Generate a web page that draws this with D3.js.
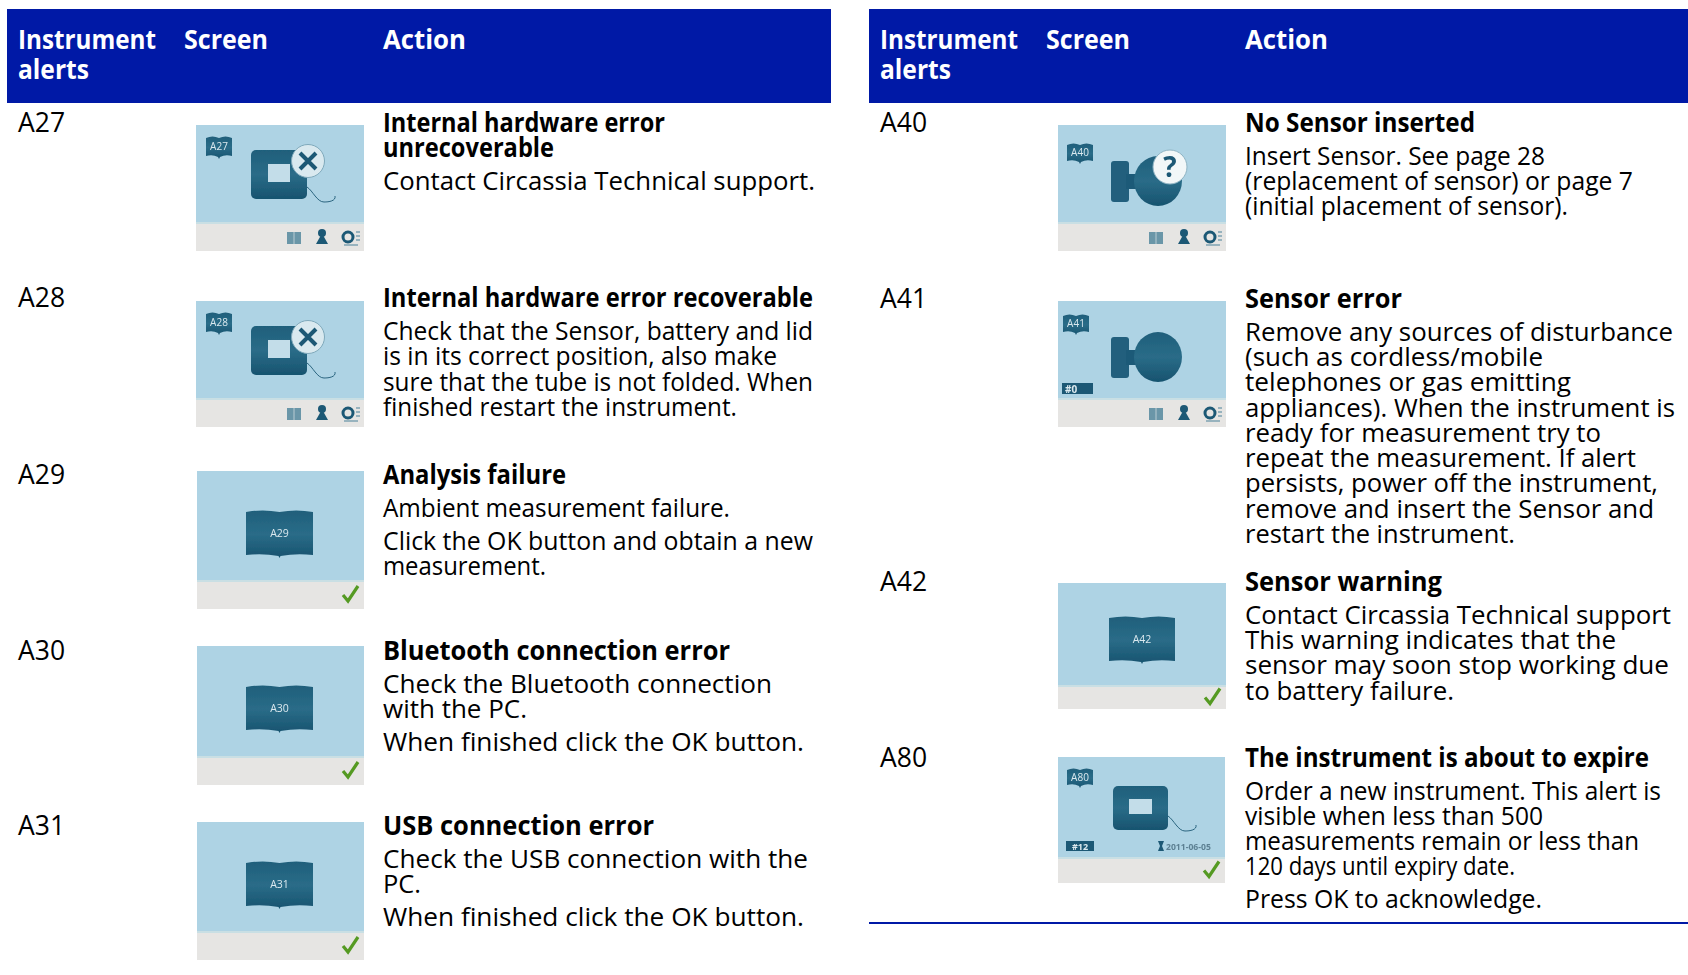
<!DOCTYPE html>
<html><head><meta charset="utf-8">
<script src="https://cdn.jsdelivr.net/npm/d3@7/dist/d3.min.js"></script>
<style>html,body{margin:0;padding:0;background:#fff}svg{display:block}text{font-family:"Open Sans",sans-serif}</style>
</head><body><svg id="c" width="1688" height="975"></svg>
<script>
const headerLabels = [["Instrument","alerts"],["Screen"],["Action"]];
const headerWidths = [[138,71],[84],[83]];
const alertsLeft = ["A27","A28","A29","A30","A31"];
const alertsRight = ["A40","A41","A42","A80"];
const screenKinds = {A27:"fault",A28:"fault",A29:"book",A30:"book",A31:"book",A40:"query",A41:"sensor",A42:"book",A80:"expire"};
const screenTags = {A41:"#0",A80:"#12"};
const screenDates = {A80:"2011-06-05"};
const actions = {
 A27:[["Internal hardware error","unrecoverable"],["Contact Circassia Technical support."]],
 A28:[["Internal hardware error recoverable"],["Check that the Sensor, battery and lid","is in its correct position, also make","sure that the tube is not folded. When","finished restart the instrument."]],
 A29:[["Analysis failure"],["Ambient measurement failure."],["Click the OK button and obtain a new","measurement."]],
 A30:[["Bluetooth connection error"],["Check the Bluetooth connection","with the PC."],["When finished click the OK button."]],
 A31:[["USB connection error"],["Check the USB connection with the","PC."],["When finished click the OK button."]],
 A40:[["No Sensor inserted"],["Insert Sensor. See page 28","(replacement of sensor) or page 7","(initial placement of sensor)."]],
 A41:[["Sensor error"],["Remove any sources of disturbance","(such as cordless/mobile","telephones or gas emitting","appliances). When the instrument is","ready for measurement try to","repeat the measurement. If alert","persists, power off the instrument,","remove and insert the Sensor and","restart the instrument."]],
 A42:[["Sensor warning"],["Contact Circassia Technical support","This warning indicates that the","sensor may soon stop working due","to battery failure."]],
 A80:[["The instrument is about to expire"],["Order a new instrument. This alert is","visible when less than 500","measurements remain or less than","120 days until expiry date."],["Press OK to acknowledge."]]
};
// measured line widths (full-size px), same nesting as actions
const actionWidths = {
 A27:[[282,171],[432]],
 A28:[[430],[430,394,430,354]],
 A29:[[183],[347],[430,163]],
 A30:[[347],[389,144],[421]],
 A31:[[271],[425,38],[421]],
 A40:[[230],[300,388,323]],
 A41:[[157],[428,298,326,430,356,391,413,409,270]],
 A42:[[197],[426,371,424,209]],
 A80:[[404],[416,298,394,270],[297]]
};

// layout (separate from content)
const W = 1688, H = 975;
const BLUE = "#0019a6", SKY = "#aed3e4", FOOT = "#e6e5e3", DARK = "#1c5874", GREEN = "#559a24";
const FS = 26, LH = 25.3, PARA = 33;
const panels = [
 {x0:7,x1:831,codeX:18,screenX:184,actionX:383,codes:alertsLeft,
  base:[131.5,307,483.6,660,834.6],
  img:[[196,125,168,126],[196,301,168,126],[197,471,167,138],[197,646,167,139],[197,822,167,138]]},
 {x0:869,x1:1688,codeX:880,screenX:1046,actionX:1245,codes:alertsRight,
  base:[131.5,307.6,590.8,766.5],
  img:[[1058,125,168,126],[1058,301,168,126],[1058,583,168,126],[1058,757,167,126]]}
];

const svg = d3.select("#c");
const defs = svg.append("defs");
defs.append("filter").attr("id","soft").append("feGaussianBlur").attr("stdDeviation",0.6);
const lg = defs.append("linearGradient").attr("id","dk").attr("x1",0).attr("x2",0).attr("y1",0).attr("y2",1);
lg.append("stop").attr("offset",0).attr("stop-color","#1f5f7b");
lg.append("stop").attr("offset",.5).attr("stop-color","#2a6c88");
lg.append("stop").attr("offset",1).attr("stop-color","#17536f");

function smallBook(g,x,y,w,h,label,fs){
  const p=d3.path();
  p.moveTo(x,y+2);p.quadraticCurveTo(x+w*.25,y-1,x+w/2,y+2);p.quadraticCurveTo(x+w*.75,y-1,x+w,y+2);
  p.lineTo(x+w,y+h-2);p.quadraticCurveTo(x+w*.75,y+h-4,x+w/2+1,y+h-1);p.lineTo(x+w/2,y+h+1);p.lineTo(x+w/2-1,y+h-1);
  p.quadraticCurveTo(x+w*.25,y+h-4,x,y+h-2);p.closePath();
  g.append("path").attr("d",p.toString()).attr("fill","url(#dk)");
  g.append("text").attr("x",x+w/2).attr("y",y+h/2-1).attr("dominant-baseline","central").attr("text-anchor","middle")
   .attr("font-size",fs).attr("fill","#dbe9ef").text(label);
}
function footerIcons(g,fy){
  g.append("rect").attr("x",91).attr("y",fy+9).attr("width",14).attr("height",12).attr("fill","#6b96a8");
  g.append("line").attr("x1",98).attr("x2",98).attr("y1",fy+9).attr("y2",fy+21).attr("stroke","#b9ccd3");
  g.append("circle").attr("cx",126).attr("cy",fy+10).attr("r",4).attr("fill",DARK);
  g.append("path").attr("d",`M124.5 ${fy+13}L120 ${fy+21}H132L127.5 ${fy+13}Z`).attr("fill",DARK);
  g.append("circle").attr("cx",152).attr("cy",fy+14).attr("r",5).attr("fill","none").attr("stroke",DARK).attr("stroke-width",3);
  g.append("path").attr("d",`M160 ${fy+9}h4M160 ${fy+13}h4M160 ${fy+17}h4M148 ${fy+22}h14`).attr("stroke","#7fa3b3").attr("stroke-width",1.3);
}
function check(g,fy,w,h){
  const cy=(fy+h)/2;
  g.append("path").attr("d",`M${w-21} ${cy}l5 6l10 -15`).attr("fill","none").attr("stroke",GREEN).attr("stroke-width",3.2);
}
function device(g,x,y,w,h,ix,iy,iw,ih){
  g.append("rect").attr("x",x).attr("y",y).attr("width",w).attr("height",h).attr("rx",5).attr("fill","url(#dk)");
  g.append("rect").attr("x",ix).attr("y",iy).attr("width",iw).attr("height",ih).attr("fill","#c3dde9");
}
function cable(g,x,y){
  g.append("path").attr("d",`M${x} ${y}c6 4 10 15 17 15c5 0 12 -1 11 -6`).attr("fill","none").attr("stroke",DARK).attr("stroke-width",0.9);
}
function sensor(g){
  g.append("rect").attr("x",53).attr("y",36).attr("width",18).attr("height",41).attr("rx",3).attr("fill","#205f7d");
  g.append("rect").attr("x",68).attr("y",49).attr("width",14).attr("height",15).attr("fill","#1d5a78");
  g.append("ellipse").attr("cx",100).attr("cy",56).attr("rx",24).attr("ry",25).attr("fill","url(#dk)");
}
function drawScreen(code,r){
  const [x,y,w,h]=r, kind=screenKinds[code];
  const g=svg.append("g").attr("transform",`translate(${x},${y})`).attr("filter","url(#soft)");
  const fy = kind==="book" ? h-(h>130?28:23) : kind==="expire" ? h-25 : h-28;
  g.append("rect").attr("width",w).attr("height",h).attr("fill",SKY);
  g.append("rect").attr("y",fy).attr("width",w).attr("height",h-fy).attr("fill",FOOT);
  g.append("rect").attr("y",fy-1).attr("width",w).attr("height",2).attr("fill","#c9dfe4");
  if(kind==="book"){
    const by = h>130?39:33, bx= h>130?49:51, bw=h>130?67:66;
    smallBook(g,bx,by,bw,47,code,10.5);
    check(g,fy,w,h);
  } else if(kind==="fault"){
    smallBook(g,10,11,26,22,code,10);
    device(g,55,25,56,49,72,39,22,18);
    cable(g,111,62);
    g.append("circle").attr("cx",112).attr("cy",36).attr("r",16.5).attr("fill","#d9e9ef").attr("stroke","#7fa9bb").attr("stroke-width",1);
    g.append("path").attr("d","M104 28l16 16M120 28l-16 16").attr("stroke",DARK).attr("stroke-width",4);
    footerIcons(g,fy);
  } else if(kind==="query"){
    smallBook(g,9,18,26,20,code,10);
    sensor(g);
    g.append("circle").attr("cx",112).attr("cy",42).attr("r",17).attr("fill","#f2f7f8").attr("stroke","#8fb4c4");
    g.append("text").attr("x",112).attr("y",52).attr("text-anchor","middle").attr("font-size",28).attr("font-weight",700).attr("fill",DARK).text("?");
    footerIcons(g,fy);
  } else if(kind==="sensor"){
    smallBook(g,5,13,26,20,code,10);
    sensor(g);
    g.append("rect").attr("x",4).attr("y",82).attr("width",31).attr("height",11).attr("fill",DARK);
    g.append("text").attr("x",7).attr("y",91.5).attr("font-size",10).attr("font-weight",700).attr("fill","#dbe9ef").text(screenTags[code]);
    footerIcons(g,fy);
  } else if(kind==="expire"){
    smallBook(g,9,11,26,19,code,10);
    device(g,55,29,55,44,71,42,23,15);
    cable(g,110,59);
    g.append("rect").attr("x",8).attr("y",84).attr("width",28).attr("height",10).attr("fill",DARK);
    g.append("text").attr("x",22).attr("y",92.5).attr("text-anchor","middle").attr("font-size",9).attr("font-weight",700).attr("fill","#dbe9ef").text(screenTags[code]);
    g.append("path").attr("d","M100 84h6l-2 5l2 5h-6l2 -5z").attr("fill",DARK);
    g.append("text").attr("x",108).attr("y",92.5).attr("font-size",8.6).attr("font-weight",700).attr("fill","#5d8093").text(screenDates[code]);
    check(g,fy,w,h);
  }
}
function fitted(x,y,t,width,weight,fill){
  return svg.append("text").attr("x",x).attr("y",y).attr("font-size",FS).attr("font-weight",weight).attr("fill",fill)
    .attr("textLength",width).attr("lengthAdjust","spacingAndGlyphs").text(t);
}
panels.forEach(p=>{
  svg.append("rect").attr("x",p.x0).attr("y",9).attr("width",p.x1-p.x0).attr("height",94).attr("fill",BLUE);
  const hx=[p.codeX,p.screenX,p.actionX];
  headerLabels.forEach((lines,i)=>lines.forEach((t,j)=>fitted(hx[i],49+j*30,t,headerWidths[i][j],700,"#fff")));
  const baseY=d3.scaleOrdinal().domain(p.codes).range(p.base);
  const imgR=d3.scaleOrdinal().domain(p.codes).range(p.img);
  p.codes.forEach(code=>{
    svg.append("text").attr("x",p.codeX).attr("y",baseY(code)).attr("font-size",26.5).attr("fill","#000").text(code);
    drawScreen(code,imgR(code));
    let y=baseY(code);
    actions[code].forEach((para,pi)=>{
      para.forEach((line,li)=>{
        if(li>0) y+=LH;
        fitted(p.actionX,y,line,actionWidths[code][pi][li],pi===0?700:400,"#000");
      });
      y+=PARA;
    });
  });
});
svg.append("rect").attr("x",869).attr("y",922).attr("width",819).attr("height",2).attr("fill",BLUE);
</script></body></html>
